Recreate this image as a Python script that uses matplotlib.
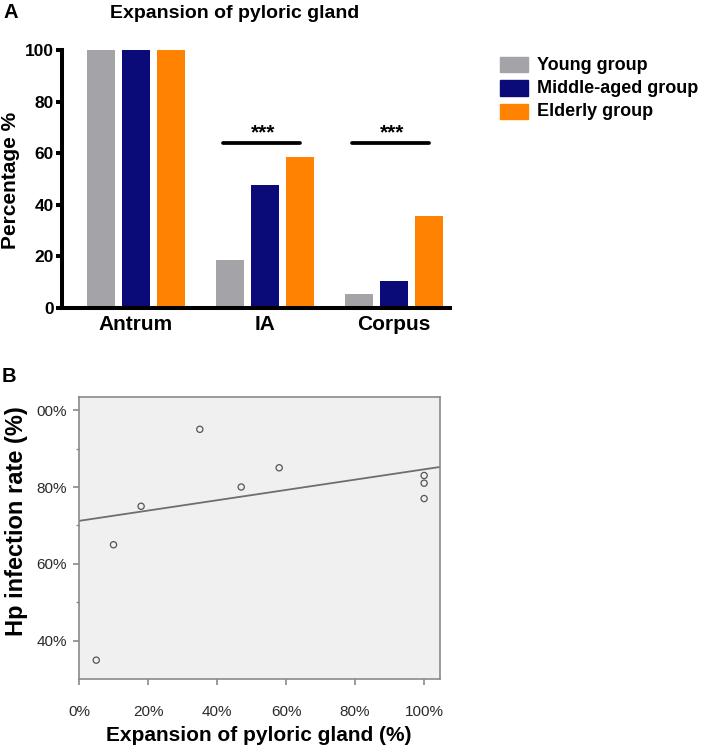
import matplotlib
matplotlib.use("Agg")
import matplotlib.pyplot as plt
from matplotlib.patches import Rectangle
from matplotlib.ticker import MultipleLocator, FixedLocator
import numpy as np

# ---- Data panel A ----
categories = ["Antrum", "IA", "Corpus"]
groups = ["Young group", "Middle-aged group", "Elderly group"]
young = [100, 18.5, 5.5]
middle = [100, 47.5, 10.5]
elderly = [100, 58.5, 35.5]
colors = ["#a3a3a8", "#0a0a78", "#ff8200"]
sig_categories = [1, 2]
sig_level = 64
sig_text = "***"

# ---- Data panel B ----
pyloric = [5, 10, 18, 35, 47, 58, 100, 100, 100]
hp_rate = [35, 65, 75, 95, 80, 85, 83, 81, 77]
fit_intercept = 71.2
fit_slope = 0.134
xticks_b = [0, 20, 40, 60, 80, 100]
xlabels_b = ["0%", "20%", "40%", "60%", "80%", "100%"]
yticks_b = [40, 60, 80, 100]
ylabels_b = ["40%", "60%", "80%", "00%"]

W, H = 709, 747
fig = plt.figure(figsize=(W / 100, H / 100), dpi=100)
FAM = ["Liberation Sans", "DejaVu Sans"]
bold = dict(family=FAM, weight="bold")


def fx(px):
    return px / W


def fy(py):
    return 1 - py / H


# ---------- Panel A ----------
axA = fig.add_axes([fx(62), fy(308), (450 - 62) / W, (308 - 50) / H])
x = np.arange(len(categories))
bw = 28 / 129.3
off = 35 / 129.3
for i, (vals, c) in enumerate(zip([young, middle, elderly], colors)):
    axA.bar(x + (i - 1) * off, vals, width=bw, color=c, zorder=2)
axA.set_xlim(-0.574, 2.434)
axA.set_ylim(0, 100)
axA.yaxis.set_major_locator(MultipleLocator(20))
for s in ["top", "right"]:
    axA.spines[s].set_visible(False)
for s in ["left", "bottom"]:
    axA.spines[s].set_linewidth(2.9)
    axA.spines[s].set_capstyle("projecting")
axA.tick_params(axis="y", width=2.9, length=4, labelsize=12.5, pad=2)
axA.tick_params(axis="x", length=0, labelsize=15, pad=5)
axA.set_xticks(x)
axA.set_xticklabels(categories)
for lab in axA.get_xticklabels() + axA.get_yticklabels():
    lab.set_fontfamily(FAM)
    lab.set_fontweight("bold")
fig.text(fx(11), fy(180), "Percentage %", rotation=90, fontsize=15,
         ha="center", va="center", **bold)
fig.text(fx(110), fy(13), "Expansion of pyloric gland", fontsize=14,
         ha="left", va="center", **bold)
# significance bars
for ci in sig_categories:
    axA.plot([ci - 0.326, ci + 0.271], [sig_level, sig_level], color="black", lw=2.7,
             solid_capstyle="round", clip_on=False, zorder=3)
    axA.text(ci - 0.016, sig_level + 1.6, sig_text, ha="center", va="baseline",
             fontsize=15, **bold)
# legend (manual, figure pixel layout)
for i, (g, c) in enumerate(zip(groups, colors)):
    top = 57 + i * 23.5
    fig.add_artist(Rectangle((fx(500), fy(top + 15)), 28 / W, 15 / H,
                             transform=fig.transFigure, color=c))
    fig.text(fx(537), fy(top + 12.5), g, fontsize=13, ha="left", va="baseline", **bold)
fig.text(fx(3), fy(12), "A", fontsize=14.5, va="center", ha="left", **bold)

# ---------- Panel B ----------
axB = fig.add_axes([fx(79), fy(679), (440 - 79) / W, (679 - 397) / H])
axB.set_facecolor("#f0f0f0")
axB.set_xlim(0, 104.6)
axB.set_ylim(30.1, 103.4)
xs = np.array(axB.get_xlim())
axB.plot(xs, fit_intercept + fit_slope * xs, color="#6e6e6e", lw=1.3, zorder=2)
axB.scatter(pyloric, hp_rate, s=20, facecolors="none", edgecolors="#555555",
            linewidths=0.9, zorder=3)
for s in axB.spines.values():
    s.set_color("#8a8a8a")
    s.set_linewidth(1.2)
axB.set_xticks(xticks_b)
axB.set_xticklabels(xlabels_b)
axB.set_yticks(yticks_b)
axB.set_yticklabels(ylabels_b)
axB.yaxis.set_minor_locator(FixedLocator([50, 70, 90]))
axB.tick_params(axis="both", which="major", color="#8a8a8a", length=4.5, width=1.2,
                labelsize=11, labelcolor="#2a2a2a")
axB.tick_params(axis="x", pad=14)
axB.tick_params(axis="y", pad=4)
axB.tick_params(axis="y", which="minor", color="#8a8a8a", length=2.5, width=1)
for lab in axB.get_xticklabels() + axB.get_yticklabels():
    lab.set_fontfamily(FAM)
fig.text(fx(259), fy(741), "Expansion of pyloric gland (%)", fontsize=15,
         ha="center", va="baseline", **bold)
fig.text(fx(17), fy(521), "Hp infection rate (%)", rotation=90, fontsize=17,
         ha="center", va="center", **bold)
fig.text(fx(2), fy(377), "B", fontsize=14.5, va="center", ha="left", **bold)

fig.savefig("out.png", dpi=100)
